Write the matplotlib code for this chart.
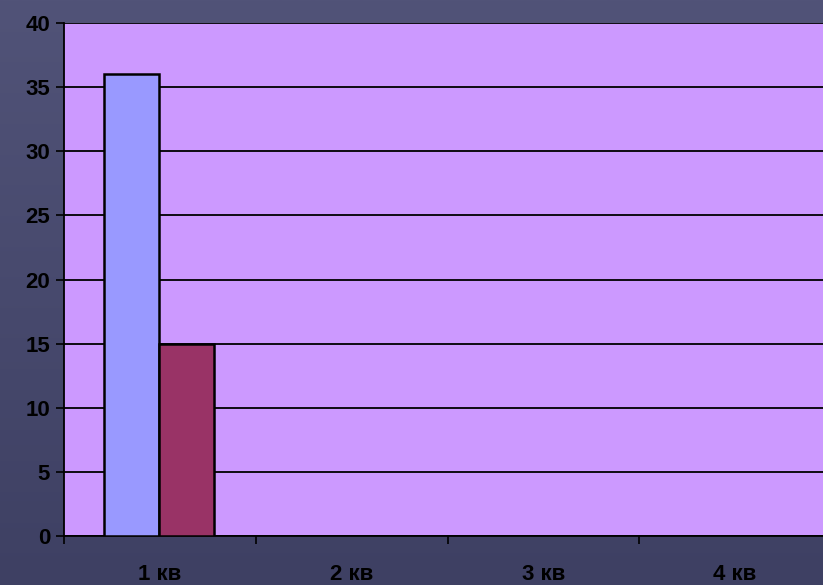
import numpy as np
import matplotlib.pyplot as plt
from matplotlib.colors import LinearSegmentedColormap

quarters = ["1 кв", "2 кв", "3 кв", "4 кв"]
series_a = [36, 0, 0, 0]
series_b = [15, 0, 0, 0]

plt.rcParams['font.family'] = ['Liberation Sans Narrow', 'Liberation Sans', 'DejaVu Sans']

fig = plt.figure(figsize=(8.23, 5.85), dpi=100)

# dark slate background with a soft vertical gradient
bg = fig.add_axes([0, 0, 1, 1], zorder=-10)
grad = np.linspace(0, 1, 256).reshape(-1, 1)
cmap = LinearSegmentedColormap.from_list("bg", ["#515378", "#3e4063"])
bg.imshow(grad, aspect="auto", cmap=cmap, extent=[0, 1, 0, 1])
bg.set_axis_off()

ax = fig.add_axes([64 / 823, 49 / 585, 767 / 823, 513 / 585])
ax.set_facecolor("#cc99ff")

x = np.arange(len(quarters))
w = 0.2875
ax.bar(x - w / 2 - 0.005, series_a, w, color="#9999ff", edgecolor="black", linewidth=1.8, zorder=3)
ax.bar(x + w / 2 - 0.005, series_b, w, color="#993366", edgecolor="black", linewidth=1.8, zorder=3)

ax.set_xlim(-0.5, len(quarters) - 0.5)
ax.set_ylim(0, 40)
ax.set_yticks(range(0, 41, 5))
ax.yaxis.grid(True, color="black", linewidth=1.3, zorder=1)
ax.set_axisbelow(True)

ax.set_xticks(x)
ax.set_xticklabels(quarters)
ax.set_xticks(np.arange(len(quarters)) - 0.5, minor=True)
ax.tick_params(axis="x", which="major", length=0, pad=20)
ax.tick_params(axis="x", which="minor", length=6, width=1.2, color="black")
ax.tick_params(axis="y", length=6, width=1.2, color="black", pad=4)

for lab in ax.get_xticklabels() + ax.get_yticklabels():
    lab.set_fontsize(16)
    lab.set_fontweight("bold")
    lab.set_color("black")

for s in ["right", "top"]:
    ax.spines[s].set_visible(False)
ax.spines["left"].set_linewidth(1.3)
ax.spines["bottom"].set_linewidth(1.3)

fig.savefig("out.png", dpi=100)
